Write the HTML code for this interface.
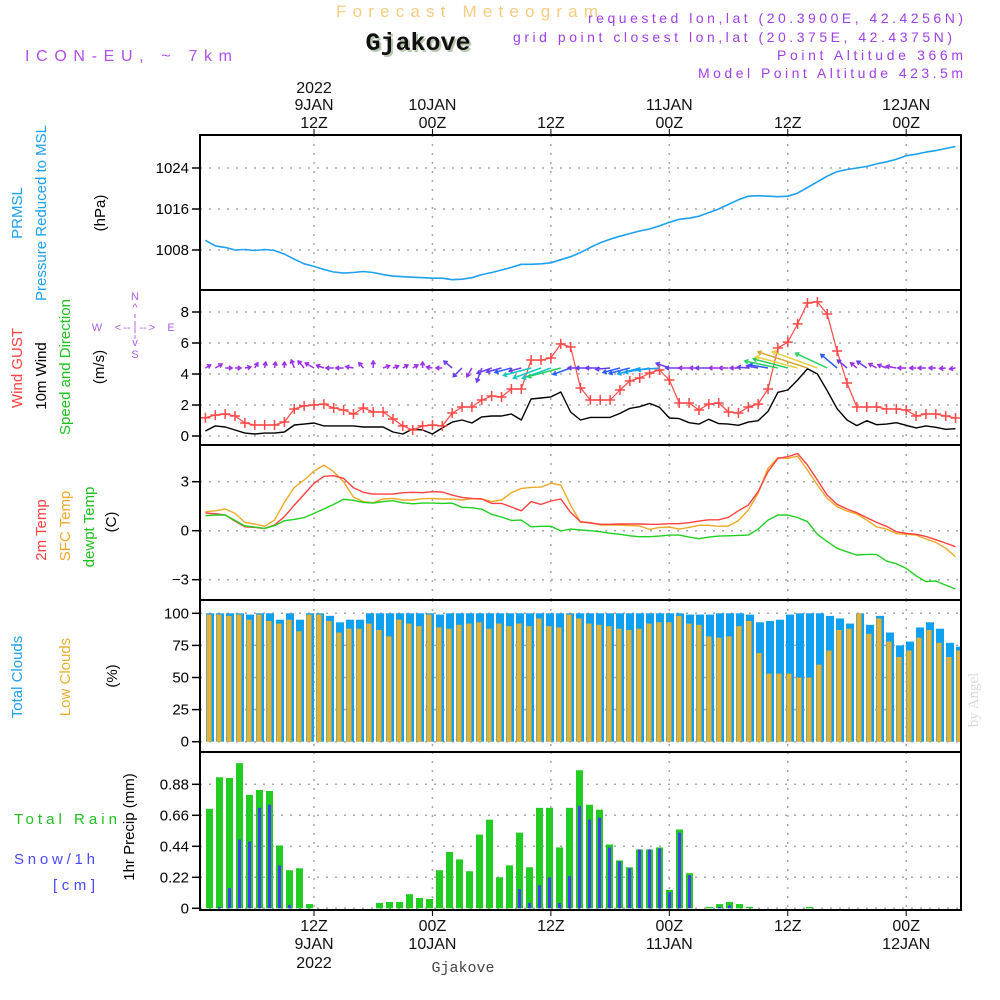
<!DOCTYPE html>
<html><head><meta charset="utf-8"><style>
html,body{margin:0;padding:0;background:#fff;}
svg{display:block;font-family:"Liberation Sans",sans-serif;}
</style></head><body>
<svg id="chart" width="1000" height="1000" viewBox="0 0 1000 1000" xmlns="http://www.w3.org/2000/svg">
<rect x="0" y="0" width="1000" height="1000" fill="#fff"/>
<text x="467" y="17" text-anchor="middle" font-size="17" fill="#f5cc80" textLength="262" lengthAdjust="spacing">Forecast Meteogram</text>
<text x="418" y="50" text-anchor="middle" font-size="25" font-weight="bold" fill="#b8c8b0" font-family="Liberation Mono, monospace" transform="translate(2,2)">Gjakove</text>
<text x="418" y="50" text-anchor="middle" font-size="25" font-weight="bold" fill="#111" font-family="Liberation Mono, monospace">Gjakove</text>
<text x="25" y="61" font-size="16" fill="#b050e8" textLength="207" lengthAdjust="spacing">ICON-EU, ~ 7km</text>
<text x="963" y="23" text-anchor="end" font-size="14" fill="#a040e8" textLength="375" lengthAdjust="spacing">requested lon,lat (20.3900E, 42.4256N)</text>
<text x="952" y="42" text-anchor="end" font-size="14" fill="#a040e8" textLength="439" lengthAdjust="spacing">grid point closest lon,lat (20.375E, 42.4375N)</text>
<text x="963" y="60" text-anchor="end" font-size="14" fill="#a040e8" textLength="186" lengthAdjust="spacing">Point Altitude 366m</text>
<text x="963" y="78" text-anchor="end" font-size="14" fill="#a040e8" textLength="265" lengthAdjust="spacing">Model Point Altitude 423.5m</text>
<text x="978" y="700" text-anchor="middle" font-size="15" fill="#d8d8d8" font-family="Liberation Serif, serif" transform="rotate(-90 978 700)">by Angel</text>
<g id="grid"></g>
<g id="marks"></g>
<g id="frames"></g>
<g id="labels"></g>
</svg>
<script>
// ---- data ----
const timeTicks = [12, 24, 36, 48, 60, 72];
const topLine1 = ["2022", "", "", "", "", ""];
const topLine2 = ["9JAN", "10JAN", "", "11JAN", "", "12JAN"];
const topLine3 = ["12Z", "00Z", "12Z", "00Z", "12Z", "00Z"];
const botLine1 = ["12Z", "00Z", "12Z", "00Z", "12Z", "00Z"];
const botLine2 = ["9JAN", "10JAN", "", "11JAN", "", "12JAN"];
const botLine3 = ["2022", "", "", "", "", ""];

const pressure = [1009.9,1008.8,1008.5,1008.0,1008.1,1007.9,1008.1,1007.9,1007.2,1006.2,1005.3,1004.8,1004.2,1003.7,1003.5,1003.6,1003.8,1003.6,1003.2,1002.9,1002.8,1002.7,1002.6,1002.5,1002.5,1002.2,1002.3,1002.6,1003.2,1003.6,1004.1,1004.6,1005.2,1005.2,1005.3,1005.5,1006.1,1006.7,1007.5,1008.5,1009.4,1010.1,1010.7,1011.2,1011.7,1012.1,1012.7,1013.4,1014.0,1014.2,1014.6,1015.3,1016.0,1016.9,1017.8,1018.5,1018.6,1018.5,1018.4,1018.5,1019.1,1020.2,1021.3,1022.4,1023.3,1023.7,1024.0,1024.3,1024.8,1025.2,1025.7,1026.4,1026.7,1027.1,1027.4,1027.8,1028.2];
const pressureTicks = [1008, 1016, 1024];

const gust = [1.18,1.35,1.42,1.29,0.84,0.71,0.71,0.71,0.90,1.74,1.94,2.0,2.06,1.81,1.68,1.42,1.81,1.55,1.55,1.10,0.65,0.39,0.65,0.71,0.65,1.48,1.87,1.87,2.32,2.58,2.52,3.03,3.03,4.90,4.90,5.03,5.94,5.74,3.10,2.32,2.32,2.32,2.97,3.55,3.74,4.06,4.26,3.61,2.13,2.13,1.68,2.06,2.13,1.55,1.48,1.87,2.06,3.03,5.68,6.06,7.23,8.58,8.65,7.87,5.48,3.42,1.87,1.87,1.87,1.74,1.74,1.68,1.29,1.42,1.42,1.29,1.16];
const wind = [0.32,0.65,0.58,0.39,0.19,0.13,0.19,0.19,0.26,0.71,0.77,0.84,0.65,0.65,0.65,0.65,0.58,0.58,0.58,0.26,0.13,0.45,0.39,0.13,0.52,0.90,1.03,0.84,1.23,1.29,1.29,1.42,1.03,2.39,2.45,2.52,2.84,1.55,1.03,1.2,1.2,1.2,1.46,1.78,1.89,2.1,1.85,1.16,1.12,0.86,0.77,1.08,0.80,0.77,0.69,0.90,0.99,1.59,2.82,2.97,3.61,4.34,4.0,2.92,1.76,1.03,0.67,0.99,0.73,0.77,0.86,0.69,0.52,0.65,0.56,0.43,0.47];
const windDir = [-30,-30,0,0,-10,-60,-80,-80,-90,-110,-130,-150,-160,180,180,-170,-130,-90,-20,-20,-30,-30,-90,-170,180,-140,135,120,110,160,165,165,165,165,160,160,165,160,180,180,180,175,165,165,165,170,175,-160,180,180,180,180,180,180,180,-175,-170,-170,-168,-165,-165,-162,-160,-155,-140,-140,-140,-145,-150,-160,-170,180,180,180,180,175,170];
const windTicks = [0, 2, 4, 6, 8];

const t2m = [1.08,1.04,0.96,0.59,0.24,0.20,0.14,0.35,0.86,1.57,2.22,2.90,3.33,3.37,3.20,2.63,2.35,2.24,2.24,2.24,2.33,2.35,2.33,2.39,2.37,2.18,2.04,1.98,1.94,1.67,1.67,1.45,1.22,1.78,1.61,1.82,1.94,1.12,0.55,0.47,0.39,0.39,0.41,0.41,0.41,0.39,0.39,0.43,0.43,0.49,0.59,0.67,0.67,0.82,1.22,1.57,2.39,3.61,4.43,4.53,4.73,4.02,3.10,2.18,1.61,1.33,1.10,0.80,0.51,0.27,-0.06,-0.16,-0.22,-0.35,-0.55,-0.76,-0.98];
const tsfc = [1.16,1.22,1.33,1.06,0.51,0.41,0.27,0.65,1.73,2.65,3.10,3.65,4.02,3.61,3.0,2.06,1.78,1.71,1.94,1.98,1.88,1.88,1.96,1.98,1.94,1.94,1.88,1.96,1.94,1.78,1.88,2.33,2.59,2.65,2.67,2.90,2.80,1.57,0.51,0.51,0.35,0.35,0.35,0.31,0.29,0.08,0.20,0.22,0.10,0.20,0.33,0.33,0.27,0.29,0.61,1.27,2.29,3.82,4.47,4.43,4.57,3.71,2.80,1.98,1.47,1.20,1.02,0.65,0.24,0.10,-0.18,-0.22,-0.27,-0.51,-0.71,-1.08,-1.59];
const tdew = [0.92,0.96,0.96,0.63,0.29,0.22,0.14,0.31,0.61,0.69,0.80,1.06,1.33,1.61,1.92,1.86,1.73,1.69,1.78,1.84,1.71,1.65,1.69,1.69,1.67,1.69,1.43,1.41,1.31,1.0,0.84,0.63,0.65,0.24,0.27,0.27,-0.02,0.1,0.04,0,-0.06,-0.16,-0.22,-0.31,-0.37,-0.37,-0.33,-0.27,-0.27,-0.39,-0.49,-0.39,-0.33,-0.31,-0.29,-0.27,0.10,0.65,0.96,0.96,0.80,0.55,-0.22,-0.67,-1.08,-1.29,-1.49,-1.45,-1.45,-1.86,-2.02,-2.31,-2.76,-3.12,-3.08,-3.33,-3.57];
const tempTicks = [-3, 0, 3];

const totalClouds = [100,100,100,100,99,100,100,95,100,95,100,100,98,93,95,95,100,100,100,100,100,100,100,99,100,100,100,100,100,100,100,100,100,100,100,100,100,100,100,100,100,100,100,100,100,100,100,100,99,99,99,100,100,100,99,93,94,95,99,100,100,100,98,96,92,100,91,98,85,75,78,89,93,88,77,74];
const lowClouds = [99,99,98,99,95,99,94,92,95,86,99,99,94,85,88,88,92,87,82,95,92,90,99,89,88,91,92,93,88,92,90,92,90,96,90,89,99,96,92,91,90,88,87,88,92,93,93,98,92,91,82,81,82,90,94,69,53,53,53,50,50,60,71,87,88,100,84,96,78,66,71,81,87,77,66,71];
const cloudTicks = [0, 25, 50, 75, 100];

const rain = [0.706,0.93,0.925,1.03,0.805,0.84,0.833,0.446,0.27,0.284,0.03,0,0,0,0,0,0,0.038,0.045,0.045,0.10,0.073,0.066,0.27,0.40,0.347,0.263,0.523,0.629,0.22,0.305,0.537,0.291,0.713,0.713,0.432,0.713,0.98,0.735,0.70,0.453,0.34,0.291,0.418,0.418,0.432,0.13,0.559,0.249,0,0.01,0.03,0.045,0.03,0.01,0,0,0,0,0,0.01,0,0,0,0,0,0,0,0,0,0,0,0,0,0,0];
const snow = [0,0.01,0.143,0.488,0.474,0.713,0.735,0.305,0.023,0,0,0,0,0,0,0,0,0,0,0,0,0,0,0,0,0,0,0,0,0,0,0.136,0.038,0.164,0.22,0.038,0.228,0.727,0.629,0.643,0.432,0.333,0.284,0.418,0.418,0.425,0.115,0.537,0.235,0,0,0.01,0.02,0,0,0,0,0,0,0,0,0,0,0,0,0,0,0,0,0,0,0,0,0,0,0];
const precipTicks = [0, 0.22, 0.44, 0.66, 0.88];
const precipTickLabels = ["0", "0.22", "0.44", "0.66", "0.88"];

// ---- axes ----
const PL = 200, PR = 961;
const panels = {p:[135,290], w:[290,445], t:[445,600], c:[600,752], r:[752,910]};
function xTime(t){ return 314 + (t - 12) * 9.87; }
function xPoint(k){ return xTime(k + 1); }
function xBar(i){ return 209.5 + i * 10; }
function yP(v){ return 250 - (v - 1008) * 5.125; }
function yW(v){ return 436 - v * 15.5; }
function yT(v){ return 530.7 - v * 16.33; }
function yC(v){ return 741.7 - v * 1.284; }
function yR(v){ return 908.3 - v * 140.9; }

const NS = "http://www.w3.org/2000/svg";
const G = id => document.getElementById(id);
function mk(parent, tag, attrs, txt){
  const e = document.createElementNS(NS, tag);
  for (const k in attrs) e.setAttribute(k, attrs[k]);
  if (txt !== undefined) e.textContent = txt;
  G(parent).appendChild(e);
  return e;
}

// clip
const defs = document.createElementNS(NS, "defs");
defs.innerHTML = '<clipPath id="plotclip"><rect x="200" y="135" width="761" height="775"/></clipPath>';
G("chart").insertBefore(defs, G("chart").firstChild);
G("marks").setAttribute("clip-path", "url(#plotclip)");

// gridlines
const gstyle = {stroke:"#a8a8a8", "stroke-width":1.5, "stroke-dasharray":"2,7", fill:"none"};
for (const key in panels){
  const [y0, y1] = panels[key];
  timeTicks.forEach(t => {
    const l = mk("grid", "line", Object.assign({x1:xTime(t), x2:xTime(t), y1:y0, y2:y1}, gstyle));
    
    
  });
}
function hgrid(ticks, yf, labels, name){
  ticks.forEach((v, i) => {
    const y = yf(v);
    const l = mk("grid", "line", Object.assign({x1:PL, x2:PR, y1:y, y2:y}, gstyle));
    
    
    const tk = mk("frames", "line", {x1:192, x2:PL, y1:y, y2:y, stroke:"#000", "stroke-width":1.5});
    
    
    const tx = mk("labels", "text", {x:189, y:y + 5, "text-anchor":"end", "font-size":15, fill:"#000"}, labels ? labels[i] : String(v).replace("-", "\u2212"));
    
    
  });
}
hgrid(pressureTicks, yP, null, "pressure");
hgrid(windTicks, yW, null, "wind");
hgrid(tempTicks, yT, null, "temp");
hgrid(cloudTicks, yC, null, "cloud");
hgrid(precipTicks, yR, precipTickLabels, "precip");

// pressure line
function polyline(arr, yf, color, w, name){
  const pts = arr.map((v, k) => xPoint(k).toFixed(1) + "," + yf(v).toFixed(1)).join(" ");
  const p = mk("marks", "polyline", {points:pts, fill:"none", stroke:color, "stroke-width":w, "stroke-linejoin":"round"});
  
  
}
polyline(pressure, yP, "#1ea0f0", 1.6, "pressure-line");

// wind
polyline(wind, yW, "#000", 1.4, "wind-speed-line");
polyline(gust, yW, "#ff4848", 1.2, "wind-gust-line");
gust.forEach((v, k) => {
  const x = xPoint(k), y = yW(v);
  const m = mk("marks", "path", {d:`M${x-5},${y}H${x+5}M${x},${y-5}V${y+5}`, stroke:"#ff4848", "stroke-width":1.5});
  
  
});
function windColor(s){
  if (s < 0.9) return "#9a30e8";
  if (s < 1.3) return "#6a3cf0";
  if (s < 1.8) return "#2a5cff";
  if (s < 2.2) return "#14a0f0";
  if (s < 2.6) return "#12c8c0";
  if (s < 3.0) return "#22d060";
  if (s < 3.6) return "#30c828";
  if (s < 4.1) return "#e8d040";
  return "#d8a830";
}
const rowY = 368;
wind.forEach((s, k) => {
  const a = windDir[k] * Math.PI / 180;
  const L = Math.max(6, s * 12);
  const x0 = xPoint(k), y0 = rowY;
  const x1 = x0 + L * Math.cos(a), y1 = y0 + L * Math.sin(a);
  const h = 4, b1 = a + Math.PI * 0.82, b2 = a - Math.PI * 0.82;
  const d = `M${x0.toFixed(1)},${y0}L${x1.toFixed(1)},${y1.toFixed(1)}M${(x1 + h*Math.cos(b1)).toFixed(1)},${(y1 + h*Math.sin(b1)).toFixed(1)}L${x1.toFixed(1)},${y1.toFixed(1)}L${(x1 + h*Math.cos(b2)).toFixed(1)},${(y1 + h*Math.sin(b2)).toFixed(1)}`;
  const ar = mk("marks", "path", {d:d, stroke:windColor(s), "stroke-width":1.5, fill:"none"});
  
  
});

// temps
polyline(tsfc, yT, "#f0a828", 1.4, "sfc-temp-line");
polyline(t2m, yT, "#ff4040", 1.4, "2m-temp-line");
polyline(tdew, yT, "#20d020", 1.4, "dewpoint-line");

// clouds
totalClouds.forEach((v, i) => {
  const x = xBar(i) + 0.5;
  const r = mk("marks", "rect", {x:x - 4, y:yC(v), width:8, height:yC(0) - yC(v), fill:"#10a0f0"});
  
  
  const lv = lowClouds[i];
  const o = mk("marks", "rect", {x:x - 3.5, y:yC(lv), width:5, height:yC(0) - yC(lv), fill:"#e8b030"});
  
  
});

// precip
rain.forEach((v, i) => {
  if (v <= 0) return;
  const x = xBar(i);
  const r = mk("marks", "rect", {x:x - 3.5, y:yR(v), width:7, height:yR(0) - yR(v), fill:"#22cc22"});
  
  
});
snow.forEach((v, i) => {
  if (v <= 0) return;
  const x = xBar(i);
  const r = mk("marks", "rect", {x:x - 1.5, y:yR(v), width:3, height:yR(0) - yR(v), fill:"#4040ff"});
  
  
});

// frames
for (const key in panels){
  const [y0, y1] = panels[key];
  const f = mk("frames", "rect", {x:PL, y:y0, width:PR - PL, height:y1 - y0, fill:"none", stroke:"#000", "stroke-width":2});
  
  
}
timeTicks.forEach((t, i) => {
  const x = xTime(t);
  const a = mk("frames", "line", {x1:x, x2:x, y1:129, y2:135, stroke:"#000", "stroke-width":1});
  
  
  const b = mk("frames", "line", {x1:x, x2:x, y1:910, y2:916, stroke:"#000", "stroke-width":1});
  
  
  [[topLine1[i], 93], [topLine2[i], 110], [topLine3[i], 128]].forEach(([s, y]) => {
    if (!s) return;
    const tx = mk("labels", "text", {x:x, y:y, "text-anchor":"middle", "font-size":16, fill:"#111"}, s);
    
    
  });
  [[botLine1[i], 931], [botLine2[i], 949], [botLine3[i], 968]].forEach(([s, y]) => {
    if (!s) return;
    const tx = mk("labels", "text", {x:x, y:y, "text-anchor":"middle", "font-size":16, fill:"#111"}, s);
    
    
  });
});

// left labels
function vlabel(txt, x, cy, color, name, size){
  const t = mk("labels", "text", {x:x, y:cy, "text-anchor":"middle", "font-size":size || 15, fill:color, transform:`rotate(-90 ${x} ${cy})`, "dominant-baseline":"middle"}, txt);
  
  
}
vlabel("PRMSL", 18, 213, "#1ea0f0", "prmsl-label");
vlabel("Pressure Reduced to MSL", 42, 213, "#1ea0f0", "pressure-axis-title");
vlabel("(hPa)", 101, 213, "#000", "pressure-unit");
vlabel("Wind GUST", 18, 368, "#ff4040", "wind-gust-label");
vlabel("10m Wind", 42, 376, "#000", "wind-label");
vlabel("Speed and Direction", 66, 367, "#20c020", "wind-axis-title");
vlabel("(m/s)", 100, 367, "#000", "wind-unit");
vlabel("2m Temp", 42, 530, "#ff4040", "2m-temp-label");
vlabel("SFC Temp", 66, 526, "#f0a828", "sfc-temp-label");
vlabel("dewpt Temp", 90, 527, "#20c020", "dewpoint-label");
vlabel("(C)", 112, 522, "#000", "temp-unit");
vlabel("Total Clouds", 18, 677, "#1ea0f0", "total-clouds-label");
vlabel("Low Clouds", 66, 677, "#e8b030", "low-clouds-label");
vlabel("(%)", 113, 676, "#000", "cloud-unit");
vlabel("1hr Precip (mm)", 130, 827, "#000", "precip-axis-title");

function hlabel(txt, x, y, color, name, len){
  const t = mk("labels", "text", {x:x, y:y, "font-size":15, fill:color, textLength:len, lengthAdjust:"spacing"}, txt);
  
  
}
hlabel("Total  Rain", 14, 824, "#20c020", "total-rain-label", 103);
hlabel("Snow/1h", 14, 864, "#4848ff", "snow-label", 81);
hlabel("[cm]", 53, 890, "#4848ff", "snow-unit", 42);

// compass
const compass = [["N",135,300],["^",135,311],["W",97,331],["<",118,331],["-- | --",135,331],[">",152,331],["E",171,331],["v",135,346],["S",135,358]];
compass.forEach(([s, x, y]) => {
  const t = mk("labels", "text", {x:x, y:y, "text-anchor":"middle", "font-size":11, fill:"#b060e8"}, s);
  
  
});
const cv = mk("labels", "line", {x1:135, x2:135, y1:314, y2:340, stroke:"#b060e8", "stroke-width":1, "stroke-dasharray":"4,3"});



// footer
const ft = mk("labels", "text", {x:463, y:972, "text-anchor":"middle", "font-size":15, fill:"#444", "font-family":"Liberation Mono, monospace"}, "Gjakove");


</script>
</body></html>
